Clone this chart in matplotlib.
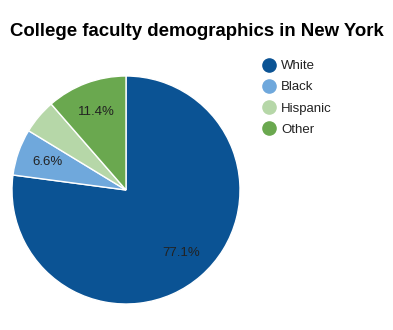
import matplotlib
matplotlib.use('Agg')

import matplotlib.pyplot as plt
from matplotlib.lines import Line2D

plt.rcParams['font.family'] = ['Liberation Sans', 'DejaVu Sans']

# faculty share by group (percent)
groups = ['White', 'Black', 'Hispanic', 'Other']
shares = [77.1, 6.6, 4.9, 11.4]
colors = ['#0b5394', '#6fa8dc', '#b6d7a8', '#6aa84f']


def pct_label(p):
    # small slices get no label
    return f'{p:.1f}%' if p >= 6 else ''


fig = plt.figure(figsize=(3.93, 3.30), dpi=100)
ax = fig.add_axes([12 / 393, 26 / 330, 228 / 393, 228 / 330])

ax.pie(shares, colors=colors, startangle=90, counterclock=False,
       autopct=pct_label, pctdistance=0.73,
       wedgeprops=dict(edgecolor='white', linewidth=1),
       textprops=dict(fontsize=9.5, color='#222222'))
ax.set_xlim(-1, 1)
ax.set_ylim(-1, 1)
ax.set_aspect('equal')

fig.text(10 / 393, 1 - 32 / 330, 'College faculty demographics in New York',
         fontsize=13.4, fontweight='bold', va='center', ha='left')

handles = [Line2D([], [], marker='o', linestyle='none', markersize=9.5,
                  markerfacecolor=c, markeredgecolor=c) for c in colors]
fig.legend(handles, groups, loc='upper left',
           bbox_to_anchor=(262 / 393, 1 - 60 / 330), frameon=False,
           fontsize=9.5, handlelength=1.0, handletextpad=0.45,
           labelspacing=0.68, borderaxespad=0, borderpad=0,
           labelcolor='#222222')

plt.savefig('out.png', dpi=100)
